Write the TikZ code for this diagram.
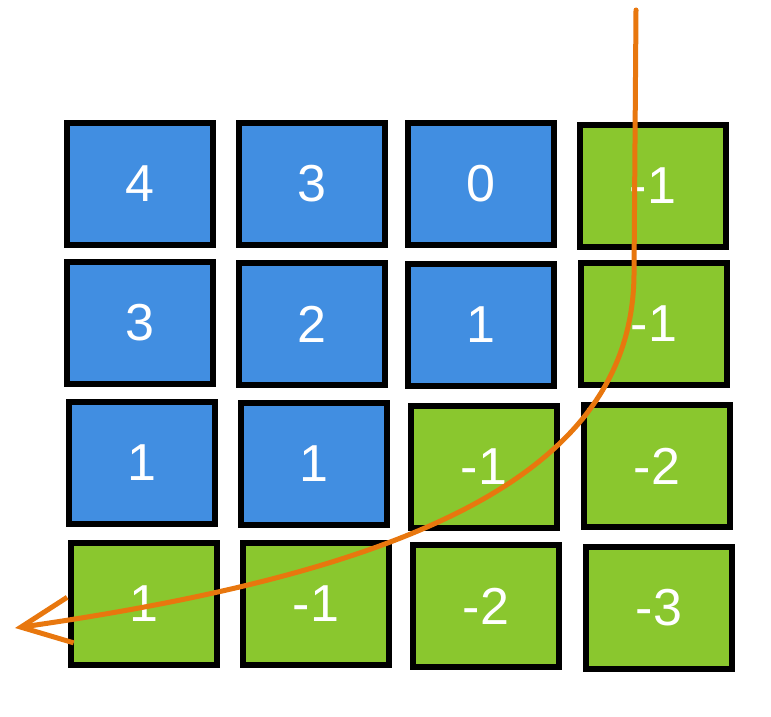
\documentclass[tikz,border=0pt]{standalone}
\usepackage{fontspec}
\setmainfont{Liberation Sans}
\usetikzlibrary{arrows.meta}
\definecolor{cellblue}{RGB}{65,142,225}
\definecolor{cellgreen}{RGB}{138,199,46}
\definecolor{pathorange}{RGB}{232,119,14}
\tikzset{
  cell/.style={draw=black, line width=6.5pt, minimum width=146pt, minimum height=122pt,
    text=white, font=\fontsize{52}{52}\selectfont, inner sep=0pt},
  bluecell/.style={cell, fill=cellblue},
  greencell/.style={cell, fill=cellgreen},
  route/.style={draw=pathorange, line width=5pt, line cap=round,
    -{Straight Barb[length=50pt,width=46pt,line width=5pt]}}
}
\begin{document}
\begin{tikzpicture}[x=1pt,y=-1pt]
\useasboundingbox (0,0) rectangle (771,717);
% row 1
\node[bluecell]  (c11) at (140,184) {4};
\node[bluecell]  (c12) at (312,184) {3};
\node[bluecell]  (c13) at (481,184) {0};
\node[greencell] (c14) at (653,186) {-1};
% row 2
\node[bluecell]  (c21) at (140,323) {3};
\node[bluecell]  (c22) at (312,324) {2};
\node[bluecell]  (c23) at (481,325) {1};
\node[greencell] (c24) at (654,324) {-1};
% row 3
\node[bluecell]  (c31) at (142,463) {1};
\node[bluecell]  (c32) at (314,464) {1};
\node[greencell] (c33) at (484,467) {-1};
\node[greencell] (c34) at (657,466) {-2};
% row 4
\node[greencell] (c41) at (144,604) {1};
\node[greencell] (c42) at (316,604) {-1};
\node[greencell] (c43) at (486,606) {-2};
\node[greencell] (c44) at (659,608) {-3};
% route
\coordinate (start) at (636,10);
\coordinate (bend) at (634,275);
\coordinate (finish) at (15,628);
\draw[route] (start) -- (bend) .. controls (632,470) and (420,570) .. (finish);
\end{tikzpicture}
\end{document}
